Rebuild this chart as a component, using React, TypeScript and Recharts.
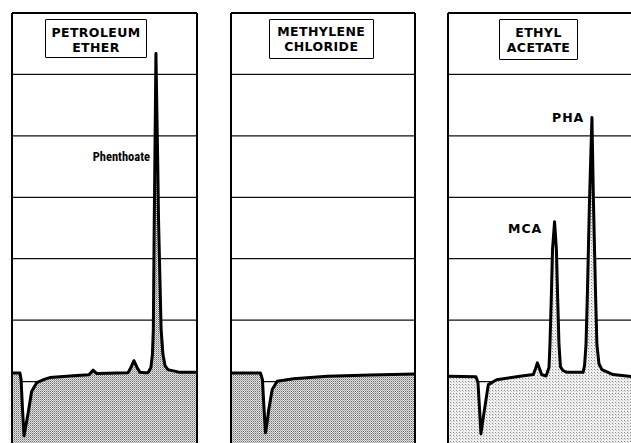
import React from 'react';
import { ComposedChart, Area, Line, XAxis, YAxis, CartesianGrid, ReferenceLine } from 'recharts';

// Retention time (0-100 % of the panel run) and detector signal (grid units, 0 = lowest grid line)
const petroleumEtherTime = [0, 4.3, 4.9, 5.7, 6.5, 7.6, 8.8, 10.6, 13.4, 17.8, 20.5, 35.1, 41.6, 43.8, 45.9, 62.7, 64.3, 65.9, 67.6, 69.2, 71.9, 73.5, 75.1, 75.9, 76.4, 76.9, 77.2, 77.8, 78.8, 79.2, 80.6, 81.6, 82.7, 84.3, 90.8, 100];
const petroleumEtherSignal = [1.4, 1.4, 0.3, -4.6, -8.8, -7.0, -5.0, -1.6, -0.16, 0.4, 0.65, 1.0, 1.1, 1.85, 1.3, 1.45, 2.3, 3.4, 2.3, 1.5, 1.45, 1.45, 2.3, 4.4, 8.5, 26.4, 35.0, 53.4, 35.0, 26.4, 8.5, 4.4, 2.6, 1.95, 1.5, 1.5];

const methyleneChlorideTime = [0, 16, 17.1, 17.9, 18.75, 19.6, 20.5, 22.4, 25.1, 34, 52.3, 75.8, 100];
const methyleneChlorideSignal = [1.4, 1.4, 0.3, -4.2, -8.35, -6.7, -4.6, -1.3, 0.05, 0.45, 0.85, 1.05, 1.25];

const ethylAcetateTime = [0, 15.1, 16.2, 17, 17.8, 18.9, 20, 21.8, 26.3, 38.9, 46.1, 47.3, 48.3, 49.5, 50.6, 53, 54.6, 55.1, 55.8, 56.5, 57.6, 58.6, 59.3, 60, 60.8, 62.2, 64.3, 73, 73.8, 74.6, 75.4, 76.5, 77.8, 78.6, 79.7, 80.5, 81.6, 83.2, 89.2, 100];
const ethylAcetateSignal = [0.85, 0.8, -0.15, -4.2, -8.5, -6.2, -4.0, -0.5, 0.3, 0.85, 1.15, 2.1, 3.05, 2.1, 1.15, 0.9, 2.3, 6.0, 13.3, 21.5, 26.0, 21.5, 13.3, 6.0, 2.4, 1.8, 1.5, 1.5, 2.6, 6.0, 15.0, 29.6, 43.0, 29.6, 15.0, 6.0, 2.9, 1.95, 1.15, 0.8];

const gridLevels = [0, 10, 20, 30, 40, 50, 60];
const solventLabels = [['PETROLEUM', 'ETHER'], ['METHYLENE', 'CHLORIDE'], ['ETHYL', 'ACETATE']];
const peakLabels = ['Phenthoate', 'MCA', 'PHA'];

const toData = (t: number[], s: number[]) => t.map((v, i) => ({ t: v, s: s[i] }));

const PLOT_H = 430;
const M = 4;

function Panel({ data, left, width, pid, dark }: { data: { t: number; s: number }[]; left: number; width: number; pid: string; dark: boolean }) {
  return (
    <div style={{ position: 'absolute', left: left - M, top: 13 - M }}>
      <ComposedChart width={width + 2 * M} height={PLOT_H + M} data={data} margin={{ top: M, right: M, left: M, bottom: 0 }}>
        <defs>
          <pattern id={pid} x="0" y="0" width={dark ? 2 : 3} height={dark ? 2 : 3} patternUnits="userSpaceOnUse">
            <rect x="0" y="0" width="3" height="3" fill={dark ? '#e4e4e4' : '#f0f0f0'} />
            <rect x="0" y="0" width="1" height="1" fill={dark ? '#6a6a6a' : '#8a8a8a'} />
            <rect x="1" y="1" width="1" height="1" fill={dark ? '#a8a8a8' : '#c4c4c4'} />
          </pattern>
        </defs>
        <CartesianGrid vertical={false} stroke="#111" strokeWidth={1.3} />
        <XAxis dataKey="t" type="number" domain={[0, 100]} hide allowDataOverflow />
        <YAxis type="number" domain={[-10, 60]} ticks={gridLevels} hide allowDataOverflow />
        <Area type="linear" dataKey="s" baseValue={-10} fill={`url(#${pid})`} fillOpacity={1} stroke="none" isAnimationActive={false} />
        <Line type="linear" dataKey="s" stroke="#000" strokeWidth={3} strokeLinejoin="round" dot={false} isAnimationActive={false} />
        <ReferenceLine x={0} stroke="#000" strokeWidth={2} ifOverflow="visible" />
        <ReferenceLine x={100} stroke="#000" strokeWidth={2} ifOverflow="visible" />
        <ReferenceLine y={60} stroke="#000" strokeWidth={2} ifOverflow="visible" />
      </ComposedChart>
    </div>
  );
}

const boxText: React.CSSProperties = {
  position: 'absolute',
  border: '1.5px solid #000',
  borderRadius: 1,
  background: '#fff',
  boxSizing: 'border-box',
  textAlign: 'center',
  fontFamily: '"DejaVu Sans", sans-serif',
  fontWeight: 700,
  fontSize: 12.5,
  lineHeight: '15px',
  paddingTop: 4.8,
  color: '#000',
  letterSpacing: 0.4,
  whiteSpace: 'nowrap',
};

const peakText: React.CSSProperties = {
  position: 'absolute',
  fontFamily: '"DejaVu Sans", sans-serif',
  fontWeight: 700,
  fontSize: 12.5,
  lineHeight: '14px',
  letterSpacing: 1,
  color: '#000',
  whiteSpace: 'nowrap',
};

export default function App() {
  return (
    <div style={{ position: 'absolute', left: 0, top: 0, width: 631, height: 443, overflow: 'hidden', background: '#fff' }}>
      <Panel data={toData(petroleumEtherTime, petroleumEtherSignal)} left={12} width={185} pid="stipple1" dark />
      <Panel data={toData(methyleneChlorideTime, methyleneChlorideSignal)} left={230.5} width={184} pid="stipple2" dark />
      <Panel data={toData(ethylAcetateTime, ethylAcetateSignal)} left={448} width={185} pid="stipple3" dark={false} />

      <div style={{ ...boxText, left: 45, top: 19, width: 102, height: 38.5 }}>
        {solventLabels[0][0]}<br />{solventLabels[0][1]}
      </div>
      <div style={{ ...boxText, left: 269, top: 18.5, width: 104.5, height: 40 }}>
        {solventLabels[1][0]}<br />{solventLabels[1][1]}
      </div>
      <div style={{ ...boxText, left: 499, top: 19, width: 79, height: 40.5 }}>
        {solventLabels[2][0]}<br />{solventLabels[2][1]}
      </div>

      <div style={{ ...peakText, right: 481, top: 150, fontFamily: '"Liberation Sans Narrow", "Roboto Condensed", Roboto, sans-serif', fontSize: 12.5, letterSpacing: 0 }}>{peakLabels[0]}</div>
      <div style={{ ...peakText, left: 508, top: 222 }}>{peakLabels[1]}</div>
      <div style={{ ...peakText, left: 552, top: 111 }}>{peakLabels[2]}</div>
    </div>
  );
}
